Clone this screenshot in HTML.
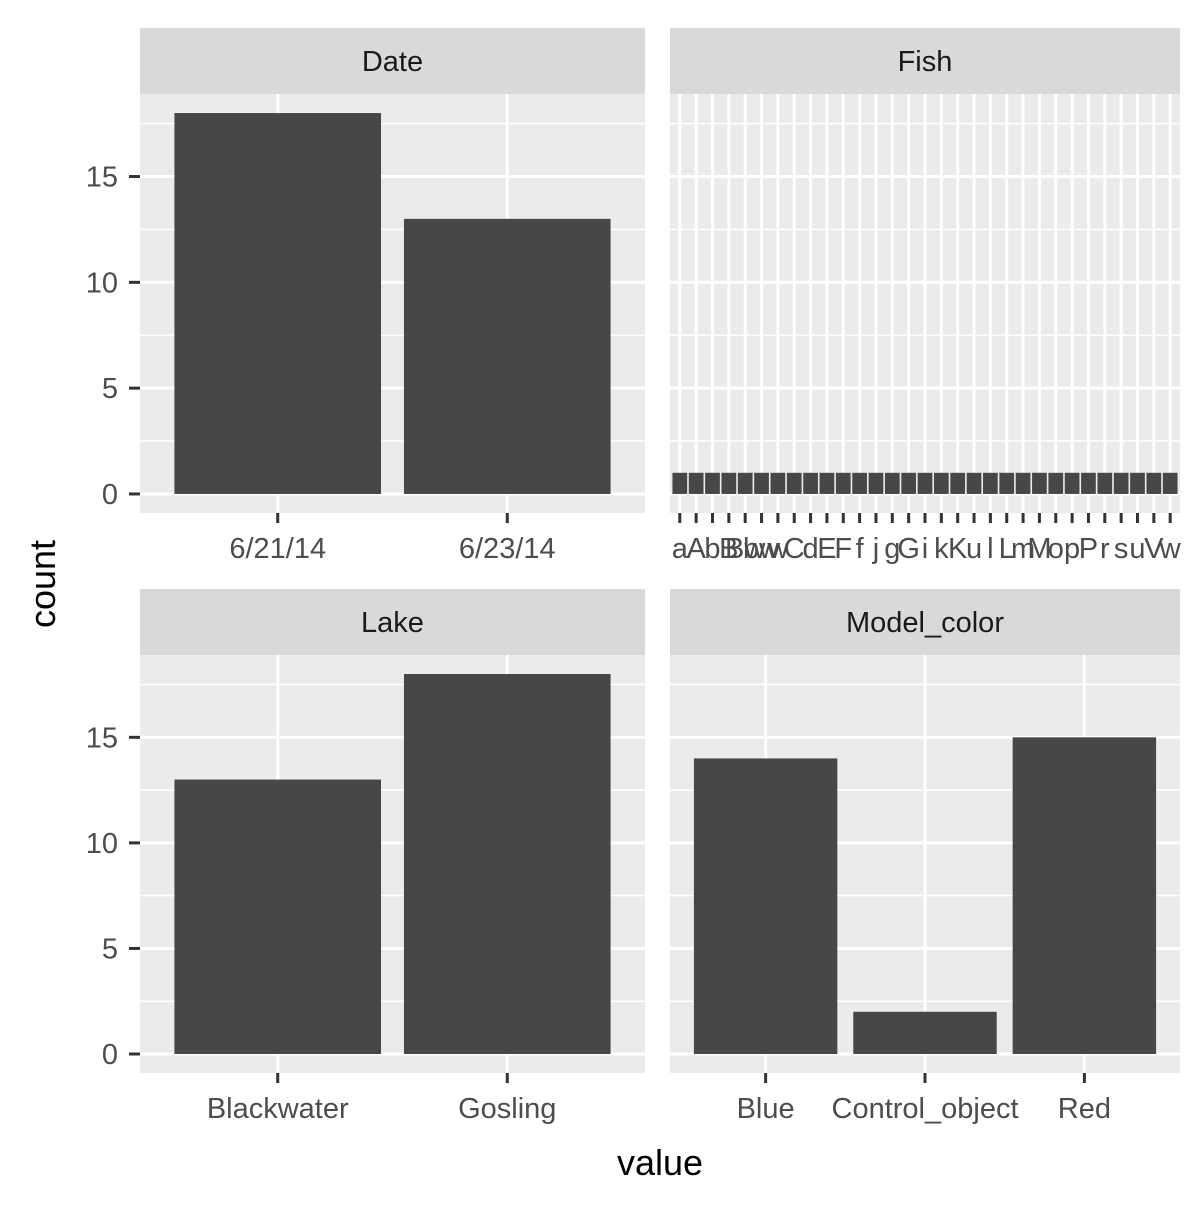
<!DOCTYPE html>
<html><head><meta charset="utf-8">
<style>
body{margin:0;background:#fff;}
svg text{font-family:"Liberation Sans",Arial,sans-serif;}
</style></head>
<body>
<svg id="chart" width="1200" height="1200" xmlns="http://www.w3.org/2000/svg"></svg>
<script>
const dateCats = ["6/21/14","6/23/14"];
const dateCounts = [18,13];
const fishCats = ["a","A","b","B","Bw","bw","w","C","d","E","F","f","j","g","G","i","k","K","u","l","L","m","M","o","p","P","r","s","u","V","w"];
const fishCounts = [1,1,1,1,1,1,1,1,1,1,1,1,1,1,1,1,1,1,1,1,1,1,1,1,1,1,1,1,1,1,1];
const lakeCats = ["Blackwater","Gosling"];
const lakeCounts = [13,18];
const colorCats = ["Blue","Control_object","Red"];
const colorCounts = [14,2,15];
const yTicks = [0,5,10,15];
const yMinor = [2.5,7.5,12.5,17.5];

const svg = document.getElementById('chart');
const NS = "http://www.w3.org/2000/svg";
function mk(tag, attrs, name, parent){
  const el = document.createElementNS(NS, tag);
  for (const k in attrs) el.setAttribute(k, attrs[k]);
  
  
  (parent||svg).appendChild(el);
  return el;
}
const yMax = 18.9, yMin = -0.9;
function panel(title, cats, vals, x0, x1, yTop, yBot, showY, labelSize){
  const g = mk('g', {}, 'panel-' + title.toLowerCase().replace(/_/g,'-'));
  // strip
  mk('rect',{x:x0,y:yTop-66,width:x1-x0,height:66,fill:'#d9d9d9'},'strip-background',g);
  const t = mk('text',{x:(x0+x1)/2,y:yTop-23,'text-anchor':'middle','font-size':29,fill:'#1a1a1a'},'strip-label',g);
  t.textContent = title;
  mk('rect',{x:x0,y:yTop,width:x1-x0,height:yBot-yTop,fill:'#ebebeb'},'panel-background',g);
  const ys = v => yBot - (v - yMin) / (yMax - yMin) * (yBot - yTop);
  const n = cats.length;
  const step = (x1 - x0) / (n - 1 + 1.2);
  const xs = i => x0 + 0.6 * step + i * step;
  yMinor.forEach(v=>{ mk('line',{x1:x0,x2:x1,y1:ys(v),y2:ys(v),stroke:'#fff','stroke-width':1.5},'minor-gridline',g); });
  yTicks.forEach(v=>{ mk('line',{x1:x0,x2:x1,y1:ys(v),y2:ys(v),stroke:'#fff','stroke-width':3},'major-gridline',g); });
  cats.forEach((c,i)=>{ mk('line',{x1:xs(i),x2:xs(i),y1:yTop,y2:yBot,stroke:'#fff','stroke-width':3},'x-gridline',g); });
  const bw = step * 0.9;
  cats.forEach((c,i)=>{
    const b = mk('rect',{x:xs(i)-bw/2,y:ys(vals[i]),width:bw,height:ys(0)-ys(vals[i]),fill:'#474747'},'bar-' + c,g);
    mk('line',{x1:xs(i),x2:xs(i),y1:yBot,y2:yBot+10,stroke:'#333','stroke-width':3},'x-tick',g);
    const tl = mk('text',{x:xs(i),y:yBot+45,'text-anchor':'middle','font-size':labelSize,fill:'#4d4d4d'},'x-tick-label',g);
    tl.textContent = c;
  });
  if (showY){
    yTicks.forEach(v=>{
      mk('line',{x1:129,x2:140,y1:ys(v),y2:ys(v),stroke:'#333','stroke-width':3},'y-tick',g);
      const yl = mk('text',{x:118,y:ys(v)+10,'text-anchor':'end','font-size':29,fill:'#4d4d4d'},'y-tick-label',g);
      yl.textContent = v;
    });
  }
}
panel('Date', dateCats, dateCounts, 140, 645, 94, 513, true, 29);
panel('Fish', fishCats, fishCounts, 670, 1180, 94, 513, false, 29);
panel('Lake', lakeCats, lakeCounts, 140, 645, 655, 1073, true, 29);
panel('Model_color', colorCats, colorCounts, 670, 1180, 655, 1073, false, 29);
const xt = mk('text',{x:660,y:1175,'text-anchor':'middle','font-size':36,fill:'#000'},'x-axis-title');
xt.textContent = 'value';
const yt = mk('text',{x:0,y:0,'text-anchor':'middle','font-size':36,fill:'#000',transform:'translate(55,584) rotate(-90)'},'y-axis-title');
yt.textContent = 'count';
</script>
</body></html>
